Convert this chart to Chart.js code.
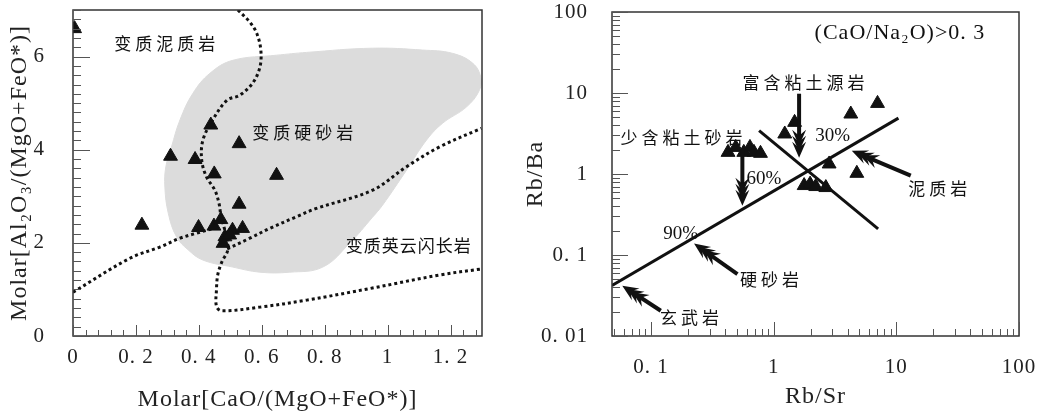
<!DOCTYPE html>
<html>
<head>
<meta charset="utf-8">
<script src="https://cdn.jsdelivr.net/npm/chart.js@4.4.1/dist/chart.umd.min.js"></script>
<style>
body { margin: 0; background: #fff; }
#wrap { position: relative; width: 1042px; height: 415px; }
#leftChart { position: absolute; left: 0; top: 0; }
#rightChart { position: absolute; left: 520px; top: 0; }
</style>
</head>
<body>
<div id="wrap">
  <canvas id="leftChart" width="520" height="415"></canvas>
  <canvas id="rightChart" width="522" height="415"></canvas>
</div>
<script>
// ---- left panel: Molar CaO/(MgO+FeO*) vs Molar Al2O3/(MgO+FeO*)
const caoRatio = [0.005, 0.219, 0.310, 0.388, 0.438, 0.449, 0.528, 0.647, 0.399, 0.448, 0.470, 0.507, 0.539, 0.483, 0.477, 0.498, 0.528];
const alRatio  = [6.60, 2.38, 3.86, 3.79, 4.53, 3.48, 4.13, 3.45, 2.33, 2.36, 2.50, 2.27, 2.31, 2.13, 1.99, 2.17, 2.83];

// grey field of metagreywacke
const fieldX = [0.647, 0.508, 0.435, 0.381, 0.340, 0.313, 0.295, 0.292, 0.303, 0.329, 0.366, 0.413, 0.508, 0.594, 0.689, 0.794, 0.879, 0.952, 0.984, 1.060, 1.124, 1.175, 1.251, 1.292, 1.296, 1.270, 1.206, 1.111, 0.952, 0.743, 0.647];
const fieldY = [6.03, 5.92, 5.64, 5.21, 4.64, 4.06, 3.63, 3.20, 2.63, 2.13, 1.85, 1.63, 1.48, 1.37, 1.37, 1.48, 1.99, 2.55, 2.81, 3.56, 4.21, 4.57, 4.92, 5.28, 5.56, 5.86, 6.07, 6.14, 6.18, 6.09, 6.03];

// dotted boundaries
const curveAX = [0.524, 0.562, 0.584, 0.597, 0.594, 0.571, 0.530, 0.489, 0.444, 0.413, 0.409, 0.424, 0.451, 0.464, 0.470, 0.486, 0.492, 0.473, 0.460, 0.456, 0.456, 0.473, 0.594, 0.743, 0.952, 1.165, 1.298];
const curveAY = [7.00, 6.74, 6.50, 6.14, 5.77, 5.43, 5.17, 5.06, 4.64, 4.21, 3.78, 3.42, 3.13, 2.85, 2.60, 2.17, 1.85, 1.59, 1.31, 0.99, 0.64, 0.54, 0.62, 0.77, 1.03, 1.31, 1.44];
const curveBX = [0, 0.181, 0.276, 0.340, 0.394, 0.451];
const curveBY = [0.94, 1.67, 1.91, 2.10, 2.21, 2.32];
const curveCX = [0.490, 0.562, 0.625, 0.710, 0.774, 0.952, 1.059, 1.165, 1.298];
const curveCY = [1.87, 2.10, 2.31, 2.56, 2.74, 3.13, 3.63, 4.06, 4.46];

const leftXTicks = [0, 0.2, 0.4, 0.6, 0.8, 1, 1.2];
const leftYTicks = [0, 2, 4, 6];

// ---- right panel: Rb/Sr vs Rb/Ba
const rbSr = [7.02, 4.25, 1.48, 1.23, 0.424, 0.49, 0.57, 0.64, 0.69, 0.78, 2.83, 4.76, 1.77, 1.98, 2.20, 2.66];
const rbBa = [7.44, 5.50, 4.34, 3.12, 1.85, 2.13, 1.85, 2.13, 1.85, 1.80, 1.33, 1.02, 0.72, 0.75, 0.70, 0.68];

const mixLineX = [0.048, 10.4];
const mixLineY = [0.042, 4.9];
const crossLineX = [0.76, 7.1];
const crossLineY = [3.43, 0.21];

const rightXTicks = [0.1, 1, 10, 100];
const rightYTicks = [0.01, 0.1, 1, 10, 100];

function zip(xs, ys) {
    return xs.map((x, i) => ({ x: x, y: ys[i] }));
}

const serif = '"Liberation Serif", "DejaVu Serif", serif';
const cjk = '"Noto Sans CJK SC", "Noto Sans", sans-serif';
const ink = '#111';

// inward tick marks plus the box
function linMarks(step, count, every) {
    const out = [];
    for (let i = 0; i <= count; i++) out.push({ v: i * step, major: i % every === 0 });
    return out;
}
function logMarks(min, max) {
    const out = [];
    for (let d = -3; d <= 2; d++) {
        for (let k = 1; k <= 9; k++) {
            const v = k * Math.pow(10, d);
            if (v >= min * 0.999 && v <= max * 1.001) out.push({ v: v, major: k === 1 });
        }
    }
    return out;
}

// keep the plot box where it is in the picture
function fixX(h) {
    return s => { s.height = h; s.paddingLeft = 0; s.paddingRight = 0; };
}
function fixY(w) {
    return s => { s.width = w; s.paddingTop = 0; s.paddingBottom = 0; };
}

const frameTicks = {
    id: 'frameTicks',
    beforeDraw(chart) {
        chart.ctx.letterSpacing = '1px';
    },
    afterDatasetsDraw(chart, args, opts) {
        const { ctx, chartArea: a, scales } = chart;
        ctx.save();
        ctx.strokeStyle = '#333';
        ctx.lineWidth = 1.5;
        ctx.strokeRect(a.left, a.top, a.right - a.left, a.bottom - a.top);
        ctx.lineWidth = 1;
        ctx.strokeStyle = '#555';
        ctx.beginPath();
        opts.x.forEach(m => {
            const px = Math.round(scales.x.getPixelForValue(m.v)) + 0.5;
            ctx.moveTo(px, a.bottom);
            ctx.lineTo(px, a.bottom - (m.major ? opts.xLen[0] : opts.xLen[1]));
        });
        opts.y.forEach(m => {
            const py = Math.round(scales.y.getPixelForValue(m.v)) + 0.5;
            ctx.moveTo(a.left, py);
            ctx.lineTo(a.left + (m.major ? opts.yLen[0] : opts.yLen[1]), py);
        });
        ctx.stroke();
        ctx.restore();
    }
};

function drawArrow(ctx, x0, y0, x1, y1) {
    const ang = Math.atan2(y1 - y0, x1 - x0);
    const ux = Math.cos(ang), uy = Math.sin(ang);
    const nx = -uy, ny = ux;
    ctx.lineWidth = 4;
    ctx.beginPath();
    ctx.moveTo(x0, y0);
    ctx.lineTo(x1 - ux * 8, y1 - uy * 8);
    ctx.stroke();
    // feathered head: stacked barbs
    [0, 6, 12].forEach(back => {
        const tx = x1 - ux * back, ty = y1 - uy * back;
        const bx = tx - ux * 16, by = ty - uy * 16;
        ctx.beginPath();
        ctx.moveTo(tx, ty);
        ctx.lineTo(bx + nx * 7, by + ny * 7);
        ctx.lineTo(tx - ux * 10, ty - uy * 10);
        ctx.lineTo(bx - nx * 7, by - ny * 7);
        ctx.closePath();
        ctx.fill();
    });
}

const notes = {
    id: 'notes',
    afterDatasetsDraw(chart, args, opts) {
        const { ctx, scales } = chart;
        ctx.save();
        ctx.fillStyle = ink;
        ctx.strokeStyle = ink;
        (opts.arrows || []).forEach(ar => {
            drawArrow(ctx,
                scales.x.getPixelForValue(ar.from[0]), scales.y.getPixelForValue(ar.from[1]),
                scales.x.getPixelForValue(ar.to[0]), scales.y.getPixelForValue(ar.to[1]));
        });
        ctx.textAlign = 'center';
        ctx.textBaseline = 'middle';
        (opts.texts || []).forEach(t => {
            ctx.font = t.font;
            ctx.letterSpacing = t.spacing || '0px';
            ctx.fillText(t.text, scales.x.getPixelForValue(t.at[0]), scales.y.getPixelForValue(t.at[1]));
        });
        ctx.restore();
    }
};

function dotted(xs, ys) {
    return {
        data: zip(xs, ys), showLine: true, borderColor: ink, borderWidth: 3,
        borderDash: [3, 3], pointRadius: 0, tension: 0.35, fill: false
    };
}
function solid(xs, ys) {
    return {
        data: zip(xs, ys), showLine: true, borderColor: ink, borderWidth: 3,
        pointRadius: 0, fill: false
    };
}
const triangles = (xs, ys) => ({
    data: zip(xs, ys), pointStyle: 'triangle', pointRadius: 8,
    backgroundColor: ink, borderColor: ink, borderWidth: 1
});

const tickFont = { family: serif, size: 21 };
const titleFont = { family: serif, size: 24 };

// ---- left chart
new Chart(document.getElementById('leftChart'), {
    type: 'scatter',
    data: {
        datasets: [
            triangles(caoRatio, alRatio),
            dotted(curveAX, curveAY),
            dotted(curveBX, curveBY),
            dotted(curveCX, curveCY),
            {
                data: zip(fieldX, fieldY), showLine: true, fill: 'shape',
                backgroundColor: '#dcdcdc', borderColor: '#dcdcdc', borderWidth: 1,
                pointRadius: 0, tension: 0.4
            }
        ]
    },
    options: {
        responsive: false,
        animation: false,
        events: [],
        layout: { padding: { left: 0, right: 38, top: 10, bottom: 0 } },
        plugins: {
            legend: { display: false },
            tooltip: { enabled: false },
            frameTicks: { x: linMarks(0.04, 32, 5), y: linMarks(0.2, 35, 10), xLen: [11, 6], yLen: [17, 8] },
            notes: {
                texts: [
                    { text: '变质泥质岩', at: [0.298, 6.29], font: '17px ' + cjk, spacing: '4px' },
                    { text: '变质硬砂岩', at: [0.737, 4.36], font: '17px ' + cjk, spacing: '4px' },
                    { text: '变质英云闪长岩', at: [1.067, 1.95], font: '17px ' + cjk, spacing: '1px' }
                ]
            }
        },
        scales: {
            x: {
                type: 'linear', min: 0, max: 1.3,
                afterBuildTicks: s => { s.ticks = leftXTicks.map(v => ({ value: v })); },
                afterFit: fixX(79),
                grid: { display: false }, border: { display: false },
                ticks: {
                    font: tickFont, color: '#222', padding: 1, maxRotation: 0, autoSkip: false,
                    callback: v => (v === 0 || Number.isInteger(v)) ? String(v) : v.toFixed(1).replace('.', '. ')
                },
                title: { display: true, text: 'Molar[CaO/(MgO+FeO*)]', font: titleFont, color: '#222', padding: { top: 0, bottom: 1 } }
            },
            y: {
                type: 'linear', min: 0, max: 7,
                afterBuildTicks: s => { s.ticks = leftYTicks.map(v => ({ value: v })); },
                afterFit: fixY(73),
                grid: { display: false }, border: { display: false },
                ticks: { font: tickFont, color: '#222', padding: 20 },
                title: { display: true, text: 'Molar[Al₂O₃/(MgO+FeO*)]', font: titleFont, color: '#222', padding: { top: 5, bottom: 0 } }
            }
        }
    },
    plugins: [frameTicks, notes]
});

// ---- right chart
new Chart(document.getElementById('rightChart'), {
    type: 'scatter',
    data: {
        datasets: [
            triangles(rbSr, rbBa),
            solid(mixLineX, mixLineY),
            solid(crossLineX, crossLineY)
        ]
    },
    options: {
        responsive: false,
        animation: false,
        events: [],
        layout: { padding: { left: 0, right: 23, top: 12, bottom: 0 } },
        plugins: {
            legend: { display: false },
            tooltip: { enabled: false },
            frameTicks: { x: logMarks(0.048, 100), y: logMarks(0.01, 100), xLen: [14, 7], yLen: [16, 8] },
            notes: {
                arrows: [
                    { from: [0.120, 0.0205], to: [0.0582, 0.0418] },
                    { from: [0.506, 0.0582], to: [0.224, 0.139] },
                    { from: [13.1, 0.953], to: [4.33, 1.94] },
                    { from: [1.61, 9.8], to: [1.61, 1.59] },
                    { from: [0.555, 2.05], to: [0.555, 0.406] }
                ],
                texts: [
                    { text: '(CaO/Na₂O)>0. 3', at: [10.7, 54], font: '22px ' + serif, spacing: '1px' },
                    { text: '富含粘土源岩', at: [1.82, 13.4], font: '17px ' + cjk, spacing: '4px' },
                    { text: '少含粘土砂岩', at: [0.184, 2.8], font: '17px ' + cjk, spacing: '4px' },
                    { text: '泥质岩', at: [22.6, 0.66], font: '17px ' + cjk, spacing: '4px' },
                    { text: '硬砂岩', at: [0.96, 0.0495], font: '17px ' + cjk, spacing: '4px' },
                    { text: '玄武岩', at: [0.214, 0.0168], font: '17px ' + cjk, spacing: '4px' },
                    { text: '30%', at: [3.03, 2.96], font: '19px ' + serif },
                    { text: '60%', at: [0.83, 0.875], font: '19px ' + serif },
                    { text: '90%', at: [0.174, 0.183], font: '19px ' + serif }
                ]
            }
        },
        scales: {
            x: {
                type: 'logarithmic', min: 0.048, max: 100,
                afterBuildTicks: s => { s.ticks = rightXTicks.map(v => ({ value: v })); },
                afterFit: fixX(79),
                grid: { display: false }, border: { display: false },
                ticks: {
                    font: tickFont, color: '#222', padding: 11, maxRotation: 0, autoSkip: false,
                    callback: v => v >= 1 ? String(v) : String(v).replace('.', '. ')
                },
                title: { display: true, text: 'Rb/Sr', font: titleFont, color: '#222', padding: { top: 0, bottom: 4 } }
            },
            y: {
                type: 'logarithmic', min: 0.01, max: 100,
                afterBuildTicks: s => { s.ticks = rightYTicks.map(v => ({ value: v })); },
                afterFit: fixY(92),
                grid: { display: false }, border: { display: false },
                ticks: {
                    font: tickFont, color: '#222', padding: 16, autoSkip: false,
                    callback: v => v >= 1 ? String(v) : String(v).replace('.', '. ')
                },
                title: { display: true, text: 'Rb/Ba', font: titleFont, color: '#222', padding: { top: 1, bottom: 0 } }
            }
        }
    },
    plugins: [frameTicks, notes]
});
</script>
</body>
</html>
